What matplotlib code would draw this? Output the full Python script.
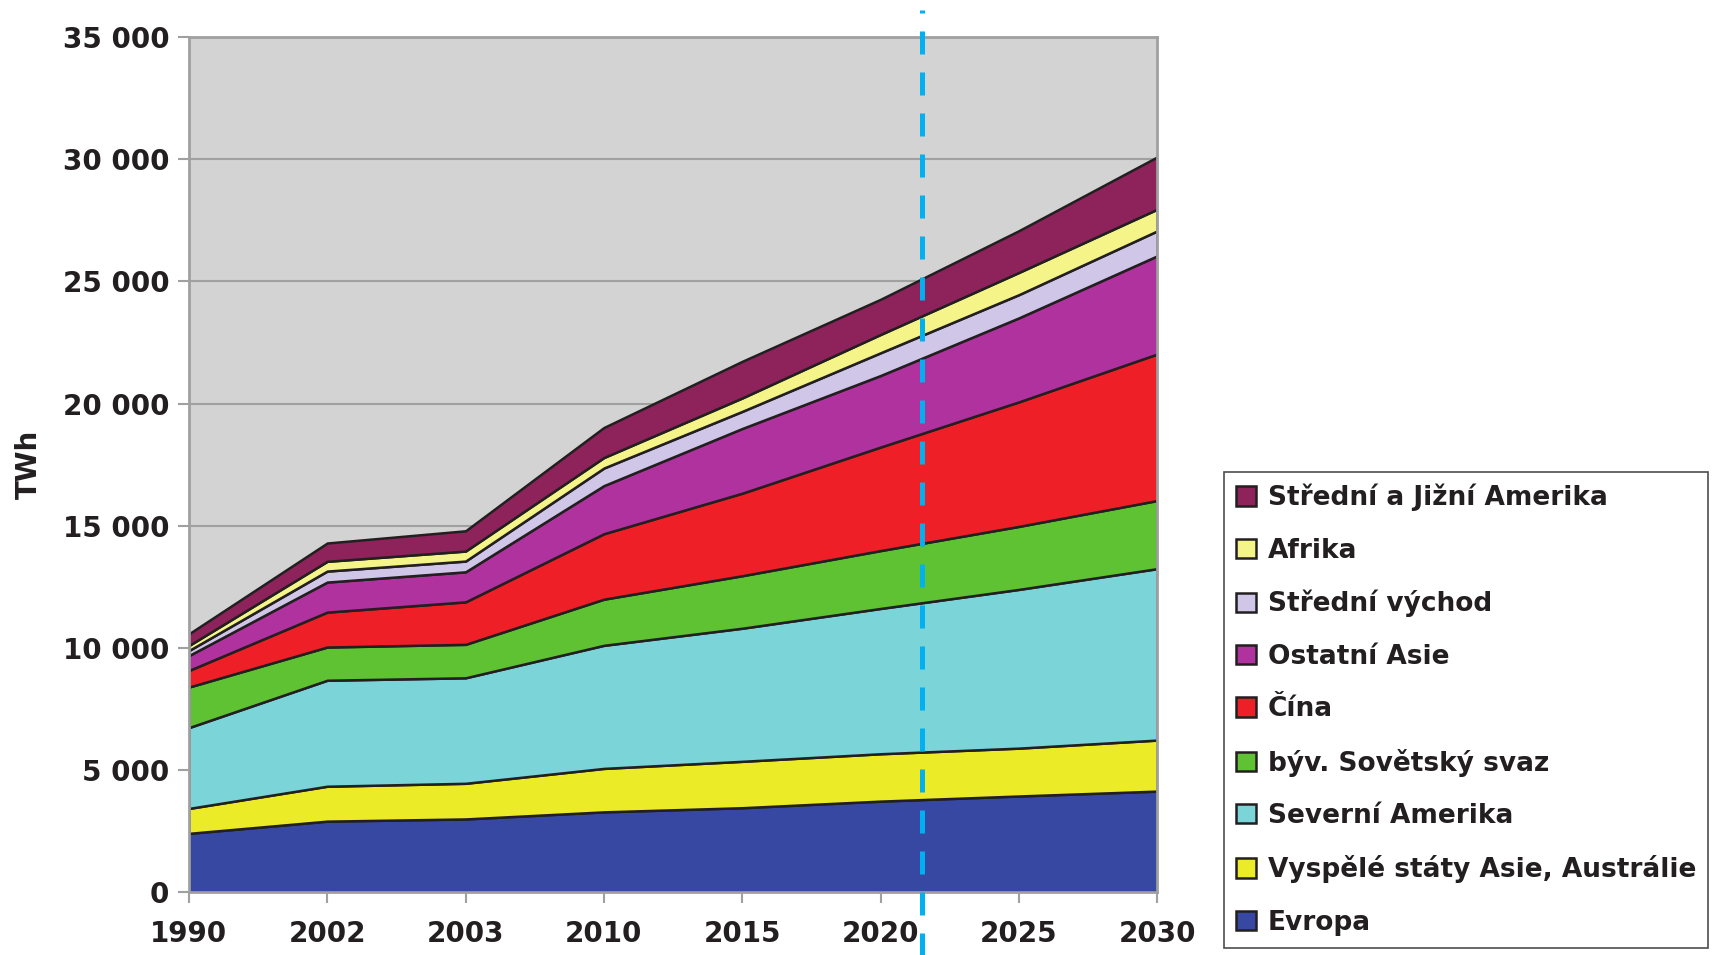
import numpy as np
import matplotlib
matplotlib.use("Agg")
import matplotlib.pyplot as plt
from matplotlib.ticker import FuncFormatter

years = ["1990", "2002", "2003", "2010", "2015", "2020", "2025", "2030"]

# TWh by region (bottom of the stack first)
evropa = [2400, 2900, 2990, 3280, 3450, 3720, 3930, 4130]
vyspele = [1020, 1430, 1460, 1780, 1900, 1940, 1960, 2090]
severni_amerika = [3310, 4340, 4320, 5040, 5450, 5950, 6500, 7020]
sovetsky_svaz = [1660, 1360, 1370, 1890, 2150, 2370, 2580, 2790]
cina = [680, 1430, 1740, 2680, 3380, 4240, 5100, 6000]
ostatni_asie = [610, 1230, 1230, 1970, 2650, 2930, 3440, 4020]
stredni_vychod = [205, 450, 440, 720, 700, 930, 950, 1020]
afrika = [205, 400, 410, 430, 550, 750, 910, 890]
sj_amerika = [480, 750, 830, 1230, 1500, 1440, 1710, 2140]

labels = ["Evropa", "Vyspělé státy Asie, Austrálie", "Severní Amerika",
          "býv. Sovětský svaz", "Čína", "Ostatní Asie", "Střední východ",
          "Afrika", "Střední a Jižní Amerika"]
colors = ["#3748A3", "#EBEB28", "#7AD4D8", "#5FC232", "#EE1F26",
          "#B0329E", "#CFC6E8", "#F4F488", "#8E235C"]

divider_pos = 5.3  # dashed line, between 2020 and 2025

plt.rcParams['font.family'] = ['DejaVu Sans']
plt.rcParams['font.weight'] = 'bold'

fig = plt.figure(figsize=(17.17, 9.55), dpi=100)
ax = fig.add_axes([0.110, 0.066, 0.564, 0.895])
ax.set_facecolor("#D3D3D3")

x = np.arange(len(years))
series = [evropa, vyspele, severni_amerika, sovetsky_svaz, cina,
          ostatni_asie, stredni_vychod, afrika, sj_amerika]
polys = ax.stackplot(x, *series, labels=labels, colors=colors,
                     edgecolor="#231F20", linewidth=1.8, zorder=2)

ax.set_xlim(0, 7)
ax.set_ylim(0, 35000)
ax.set_yticks(np.arange(0, 35001, 5000))
ax.yaxis.set_major_formatter(FuncFormatter(lambda v, p: f"{int(v):,}".replace(",", " ")))
ax.set_xticks(x)
ax.set_xticklabels(years)
ax.grid(axis='y', color="#A0A0A0", linewidth=1.5, zorder=1)
ax.set_axisbelow(True)
for s in ax.spines.values():
    s.set_color("#A0A0A0")
    s.set_linewidth(2)
ax.tick_params(axis='both', colors="#A0A0A0", labelcolor="#231F20",
               length=8, width=1.5, labelsize=20)
ax.tick_params(axis='x', pad=12)
ax.tick_params(axis='y', pad=6)
ax.set_ylabel("TWh", fontsize=20, fontweight='bold', color="#231F20", labelpad=14)

ax.plot([divider_pos, divider_pos], [-2700, 36100], color="#00B0F0",
        linewidth=3.6, dashes=(4.6, 3.6), clip_on=False, zorder=5)

handles, labs = ax.get_legend_handles_labels()
leg = fig.legend(handles[::-1], labs[::-1], loc='upper left',
                 bbox_to_anchor=(0.713, 0.506), frameon=True, fancybox=False,
                 fontsize=19, handlelength=0.75, handleheight=0.75,
                 handletextpad=0.45, labelspacing=1.0, borderpad=0.45,
                 borderaxespad=0)
leg.get_frame().set_edgecolor("#231F20")
leg.get_frame().set_linewidth(1.2)
for t in leg.get_texts():
    t.set_color("#231F20")

fig.savefig("out.png", dpi=100)
